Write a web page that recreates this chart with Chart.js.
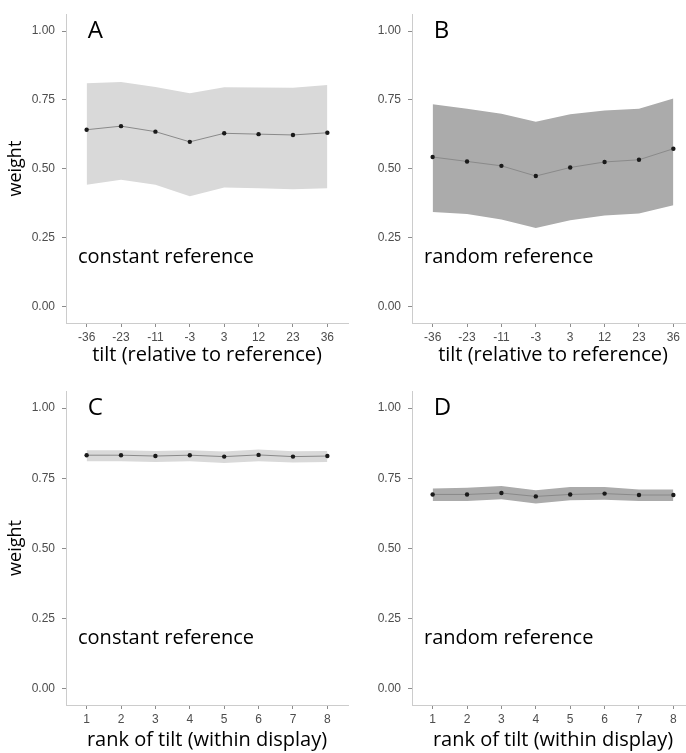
<!DOCTYPE html>
<html lang="en">

<head>
    <meta charset="UTF-8" />
    <title>Weights by tilt</title>
    <script src="https://cdn.jsdelivr.net/npm/chart.js"></script>
    <style>
        body {
            margin: 0;
            background: #ffffff;
        }

        .figure {
            position: relative;
            width: 686px;
            height: 753px;
            overflow: hidden;
        }

        .figure canvas {
            position: absolute;
        }
    </style>
</head>

<body>
    <div class="figure">
        <canvas id="panelA" width="352" height="376" style="left: 0px; top: 0px;"></canvas>
        <canvas id="panelB" width="355" height="376" style="left: 343px; top: 0px;"></canvas>
        <canvas id="panelC" width="352" height="377" style="left: 0px; top: 376px;"></canvas>
        <canvas id="panelD" width="355" height="377" style="left: 343px; top: 376px;"></canvas>
    </div>

    <script>
        // x categories
        const tiltLabels = ["-36", "-23", "-11", "-3", "3", "12", "23", "36"];
        const rankLabels = ["1", "2", "3", "4", "5", "6", "7", "8"];
        const yTicks = [0, 0.25, 0.5, 0.75, 1];

        // A: constant reference, by tilt
        const aMean = [0.642, 0.655, 0.635, 0.598, 0.629, 0.626, 0.623, 0.631];
        const aUpper = [0.811, 0.815, 0.797, 0.774, 0.796, 0.795, 0.794, 0.804];
        const aLower = [0.442, 0.461, 0.442, 0.401, 0.432, 0.430, 0.426, 0.430];

        // B: random reference, by tilt
        const bMean = [0.543, 0.527, 0.511, 0.474, 0.505, 0.525, 0.533, 0.573];
        const bUpper = [0.734, 0.718, 0.700, 0.671, 0.698, 0.712, 0.718, 0.755];
        const bLower = [0.344, 0.336, 0.316, 0.286, 0.314, 0.331, 0.338, 0.368];

        // C: constant reference, by rank
        const cMean = [0.832, 0.832, 0.829, 0.832, 0.827, 0.833, 0.827, 0.829];
        const cUpper = [0.850, 0.850, 0.847, 0.850, 0.845, 0.852, 0.846, 0.847];
        const cLower = [0.810, 0.810, 0.808, 0.810, 0.804, 0.810, 0.806, 0.808];

        // D: random reference, by rank
        const dMean = [0.692, 0.692, 0.697, 0.685, 0.692, 0.695, 0.690, 0.690];
        const dUpper = [0.713, 0.716, 0.722, 0.707, 0.719, 0.719, 0.710, 0.710];
        const dLower = [0.669, 0.669, 0.675, 0.660, 0.671, 0.673, 0.669, 0.669];

        const lightBand = "#d9d9d9";
        const darkBand = "#ababab";

        function toPoints(values) {
            return values.map((v, i) => ({ x: i + 1, y: v }));
        }

        // panel letter and note, placed through the chart scales
        const panelText = {
            id: "panelText",
            afterDatasetsDraw(chart, args, opts) {
                const { ctx, chartArea, scales } = chart;
                ctx.save();
                ctx.fillStyle = "#000000";
                ctx.textAlign = "left";
                ctx.textBaseline = "middle";
                ctx.font = "24px 'Open Sans'";
                ctx.fillText(opts.letter, scales.x.getPixelForValue(1) + 1, scales.y.getPixelForValue(1));
                ctx.font = "20px 'Open Sans'";
                ctx.fillText(opts.note, chartArea.left + 12, scales.y.getPixelForValue(0.18));
                ctx.restore();
            },
        };

        function makeConfig(p) {
            return {
                type: "line",
                data: {
                    datasets: [
                        {
                            // mean line on top
                            data: toPoints(p.mean),
                            order: 0,
                            fill: false,
                            borderColor: "#8a8a8a",
                            borderWidth: 1,
                            pointRadius: 2.2,
                            pointBorderWidth: 0,
                            pointBackgroundColor: "#1a1a1a",
                        },
                        {
                            data: toPoints(p.upper),
                            order: 2,
                            fill: "+1",
                            backgroundColor: p.band,
                            borderColor: "transparent",
                            borderWidth: 0,
                            pointRadius: 0,
                        },
                        {
                            data: toPoints(p.lower),
                            order: 2,
                            fill: false,
                            borderColor: "transparent",
                            borderWidth: 0,
                            pointRadius: 0,
                        },
                    ],
                },
                options: {
                    responsive: false,
                    animation: false,
                    devicePixelRatio: 1,
                    layout: {
                        padding: { top: p.top, right: 2, left: 0, bottom: 0 },
                    },
                    plugins: {
                        legend: { display: false },
                        tooltip: { enabled: false },
                        panelText: { letter: p.letter, note: p.note },
                    },
                    scales: {
                        x: {
                            type: "linear",
                            min: 0.4,
                            max: 8.6,
                            afterBuildTicks: (s) => {
                                s.ticks = p.labels.map((l, i) => ({ value: i + 1 }));
                            },
                            afterFit: (s) => {
                                s.height = p.xHeight;
                            },
                            ticks: {
                                callback: (v) => p.labels[v - 1],
                                color: "#4d4d4d",
                                font: { family: "'Liberation Sans'", size: 12 },
                                padding: 3,
                                maxRotation: 0,
                            },
                            grid: {
                                drawOnChartArea: false,
                                tickLength: 4,
                                color: "#8c8c8c",
                            },
                            border: { color: "#cccccc", width: 1 },
                            title: {
                                display: true,
                                text: p.xTitle,
                                color: "#000000",
                                font: { family: "'Open Sans'", size: 20 },
                                padding: { top: 0, bottom: p.titlePad },
                            },
                        },
                        y: {
                            type: "linear",
                            min: -0.059,
                            max: 1.061,
                            afterBuildTicks: (s) => {
                                s.ticks = yTicks.map((v) => ({ value: v }));
                            },
                            afterFit: (s) => {
                                s.width = p.yWidth;
                            },
                            ticks: {
                                callback: (v) => v.toFixed(2),
                                color: "#4d4d4d",
                                font: { family: "'Liberation Sans'", size: 12 },
                                padding: 7,
                            },
                            grid: {
                                drawOnChartArea: false,
                                tickLength: 4,
                                color: "#8c8c8c",
                            },
                            border: { color: "#cccccc", width: 1 },
                            title: {
                                display: p.showY,
                                text: "weight",
                                color: "#000000",
                                font: { family: "'Open Sans'", size: 18 },
                                padding: { top: 5, bottom: 0 },
                            },
                        },
                    },
                },
                plugins: [panelText],
            };
        }

        const tiltTitle = "tilt (relative to reference)";
        const rankTitle = "rank of tilt (within display)";

        new Chart(document.getElementById("panelA"), makeConfig({
            letter: "A", note: "constant reference", labels: tiltLabels, xTitle: tiltTitle,
            mean: aMean, upper: aUpper, lower: aLower, band: lightBand,
            top: 10, xHeight: 53, titlePad: 9, yWidth: 66, showY: true,
        }));

        new Chart(document.getElementById("panelB"), makeConfig({
            letter: "B", note: "random reference", labels: tiltLabels, xTitle: tiltTitle,
            mean: bMean, upper: bUpper, lower: bLower, band: darkBand,
            top: 10, xHeight: 53, titlePad: 9, yWidth: 69, showY: false,
        }));

        new Chart(document.getElementById("panelC"), makeConfig({
            letter: "C", note: "constant reference", labels: rankLabels, xTitle: rankTitle,
            mean: cMean, upper: cUpper, lower: cLower, band: lightBand,
            top: 15, xHeight: 48, titlePad: 1, yWidth: 66, showY: true,
        }));

        new Chart(document.getElementById("panelD"), makeConfig({
            letter: "D", note: "random reference", labels: rankLabels, xTitle: rankTitle,
            mean: dMean, upper: dUpper, lower: dLower, band: darkBand,
            top: 15, xHeight: 48, titlePad: 1, yWidth: 69, showY: false,
        }));
    </script>
</body>

</html>
